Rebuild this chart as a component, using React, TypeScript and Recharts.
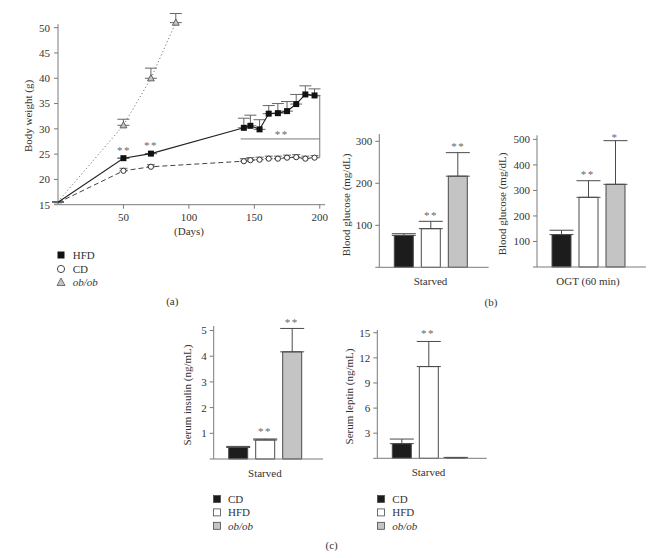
import { ComposedChart, Line, BarChart, Bar, XAxis, YAxis, ErrorBar, ReferenceLine } from 'recharts'

// (a) body weight over time
const days = [0, 50, 71, 142, 147, 154, 161, 168, 175, 182, 189, 196]
const hfdWeight = [15.5, 24.2, 25.1, 30.2, 30.6, 29.9, 33.0, 33.1, 33.5, 34.9, 36.8, 36.6]
const hfdWeightErr = [0, 0, 0, 1.9, 2.1, 1.9, 1.6, 1.9, 1.9, 1.9, 1.7, 1.3]
const cdWeight = [15.4, 21.7, 22.5, 23.6, 23.8, 23.9, 24.1, 24.1, 24.3, 24.4, 24.1, 24.3]
const cdWeightErr = [0, 0.5, 0.4, 0.5, 0.5, 0.5, 0.5, 0.5, 0.5, 0.5, 0.5, 0.4]
const obDays = [0, 50, 71, 90]
const obWeight = [15.6, 30.7, 40.0, 51.0]
const obWeightErr = [0, 1.2, 2.0, 1.8]
const dayTicks = [50, 100, 150, 200]
const weightTicks = [15, 20, 25, 30, 35, 40, 45, 50]

// (b) and (c) bar panels, groups in order CD, HFD, ob/ob
const groups = ['CD', 'HFD', 'ob/ob']
const glucoseStarved = [76, 92, 217]
const glucoseStarvedErr = [4, 17.5, 56]
const glucoseOgt = [127, 273, 324]
const glucoseOgtErr = [17, 65, 171]
const insulinStarved = [0.45, 0.74, 4.17]
const insulinStarvedErr = [0.04, 0.04, 0.91]
const leptinStarved = [1.75, 10.96, 0.1]
const leptinStarvedErr = [0.55, 3.0, 0]

const FONT = '"Liberation Serif", "DejaVu Serif", serif'
const AXIS = '#7a7a7a'
const EDGE = '#4a4a4a'
const INK = '#333'
const FILLS = ['#1c1c1c', '#ffffff', '#c4c4c4']
const tickStyle = { fontSize: 11, fill: INK, fontFamily: FONT }

const weightRows = days.map((d, i) => ({
  day: d,
  hfd: hfdWeight[i], hfdErr: [0, hfdWeightErr[i]],
  cd: cdWeight[i], cdErr: [0, cdWeightErr[i]],
}))
const obRows = obDays.map((d, i) => ({ day: d, ob: obWeight[i], obErr: [0, obWeightErr[i]] }))

const squareDot = (p: any) => p.index === 0
  ? <g key={`s${p.index}`} />
  : <rect key={`s${p.index}`} x={p.cx - 3} y={p.cy - 3} width={6} height={6} fill="#111" />
const circleDot = (p: any) => p.index === 0
  ? <g key={`c${p.index}`} />
  : <circle key={`c${p.index}`} cx={p.cx} cy={p.cy} r={2.6} fill="#fff" stroke="#333" strokeWidth={1} />
const triDot = (p: any) => p.index === 0
  ? <g key={`t${p.index}`} />
  : <path key={`t${p.index}`} d={`M${p.cx},${p.cy - 3.6} L${p.cx + 3.4},${p.cy + 2.6} L${p.cx - 3.4},${p.cy + 2.6} Z`} fill="#c4c4c4" stroke="#555" strokeWidth={0.9} />

function WeightPanel() {
  return (
    <div style={{ position: 'absolute', left: 0, top: 0 }}>
      <ComposedChart width={340} height={240} data={weightRows} margin={{ top: 2.4, right: 15, bottom: 5.3, left: 0 }}>
        <XAxis dataKey="day" type="number" domain={[0, 204]} ticks={dayTicks} height={30}
          axisLine={{ stroke: AXIS }} tickLine={{ stroke: AXIS }} tickSize={4} tickMargin={4} tick={tickStyle} />
        <YAxis type="number" domain={[15, 55]} ticks={weightTicks} width={58} axisLine={false}
          tickLine={{ stroke: AXIS }} tickSize={4} tickMargin={4} tick={tickStyle} />
        <ReferenceLine segment={[{ x: 0, y: 15 }, { x: 0, y: 50.7 }]} stroke={AXIS} ifOverflow="visible" />
        {/* significance bracket HFD vs CD */}
        <ReferenceLine segment={[{ x: 139.6, y: 28 }, { x: 200, y: 28 }]} stroke={AXIS} ifOverflow="visible" />
        <ReferenceLine segment={[{ x: 200, y: 24.3 }, { x: 200, y: 36.5 }]} stroke={AXIS} ifOverflow="visible" />
        <ReferenceLine segment={[{ x: 197.5, y: 36.5 }, { x: 200, y: 36.5 }]} stroke={AXIS} ifOverflow="visible" />
        <ReferenceLine segment={[{ x: 197.5, y: 24.3 }, { x: 200, y: 24.3 }]} stroke={AXIS} ifOverflow="visible" />
        <Line data={obRows} dataKey="ob" stroke="#777" strokeWidth={1} strokeDasharray="1.2 2.4"
          dot={triDot} isAnimationActive={false}>
          <ErrorBar dataKey="obErr" direction="y" width={6} stroke="#666" strokeWidth={1} />
        </Line>
        <Line dataKey="cd" stroke="#444" strokeWidth={1} strokeDasharray="5 3" dot={circleDot} isAnimationActive={false}>
          <ErrorBar dataKey="cdErr" direction="y" width={4} stroke="#666" strokeWidth={1} />
        </Line>
        <Line dataKey="hfd" stroke="#222" strokeWidth={1.1} dot={squareDot} isAnimationActive={false}>
          <ErrorBar dataKey="hfdErr" direction="y" width={6} stroke="#666" strokeWidth={1} />
        </Line>
      </ComposedChart>
    </div>
  )
}

type BarProps = {
  left: number; top: number; width: number; height: number; axisW: number
  margin: { top: number; right: number; bottom: number; left: number }
  yMax: number; ticks: number[]; category: string; values: number[]; errs: number[]
}

function BarPanel({ left, top, width, height, axisW, margin, yMax, ticks, category, values, errs }: BarProps) {
  const row: Record<string, unknown> = { name: category }
  groups.forEach((_, i) => { row['v' + i] = values[i]; row['e' + i] = [0, errs[i]] })
  return (
    <div style={{ position: 'absolute', left, top }}>
      <BarChart width={width} height={height} data={[row]} margin={margin} barSize={19} barGap={8}>
        <XAxis dataKey="name" height={20} axisLine={{ stroke: AXIS }} tickLine={false} tickSize={0} tickMargin={10}
          tick={tickStyle} padding={{ left: 0, right: 7 }} />
        <YAxis type="number" domain={[0, yMax]} ticks={ticks} width={axisW} tickFormatter={(v: number) => (v === 0 ? '' : String(v))}
          axisLine={{ stroke: AXIS }} tickLine={{ stroke: AXIS }} tickSize={4} tickMargin={3} tick={tickStyle} />
        {groups.map((g, i) => (
          <Bar key={g} dataKey={'v' + i} name={g} fill={FILLS[i]} stroke={EDGE} strokeWidth={1} isAnimationActive={false}>
            <ErrorBar dataKey={'e' + i} direction="y" width={12} stroke={EDGE} strokeWidth={1} />
          </Bar>
        ))}
      </BarChart>
    </div>
  )
}

const txt = { fontFamily: FONT, fontSize: 11, fill: INK }
const star = { fontFamily: FONT, fontSize: 11, fill: '#666', letterSpacing: 1.5 }

function Overlay() {
  const vlabel = (x: number, y: number, s: string) => (
    <text x={x} y={y} transform={`rotate(-90 ${x} ${y})`} textAnchor="middle" dominantBaseline="central" style={txt}>{s}</text>
  )
  const stars = (x: number, y: number, s: string) => (
    <text x={x} y={y} textAnchor="middle" dominantBaseline="central" style={star}>{s}</text>
  )
  const barLegend = (x: number, tx: number) => groups.map((g, i) => (
    <g key={g + x}>
      <rect x={x - 3.5} y={499 + i * 13.4 - 3.5} width={7} height={7} fill={FILLS[i]} stroke={EDGE} strokeWidth={0.8} />
      <text x={tx} y={499 + i * 13.4} dominantBaseline="central" style={{ ...txt, fontStyle: i === 2 ? 'italic' : 'normal' }}>{g}</text>
    </g>
  ))
  return (
    <svg width={664} height={558} style={{ position: 'absolute', left: 0, top: 0, pointerEvents: 'none' }}>
      {vlabel(28, 116, 'Body weight (g)')}
      {vlabel(345.7, 205, 'Blood glucose (mg/dL)')}
      {vlabel(502.3, 204, 'Blood glucose (mg/dL)')}
      {vlabel(186.7, 395, 'Serum insulin (ng/mL)')}
      {vlabel(349.3, 396.5, 'Serum leptin (ng/mL)')}
      <text x={189} y={231} textAnchor="middle" dominantBaseline="central" style={txt}>(Days)</text>
      <text x={172.3} y={301.3} textAnchor="middle" dominantBaseline="central" style={txt}>(a)</text>
      <text x={491} y={302} textAnchor="middle" dominantBaseline="central" style={txt}>(b)</text>
      <text x={331.7} y={545} textAnchor="middle" dominantBaseline="central" style={txt}>(c)</text>

      {/* legend (a) */}
      <rect x={57.5} y={251.5} width={7} height={7} fill="#111" />
      <text x={72.7} y={255} dominantBaseline="central" style={txt}>HFD</text>
      <circle cx={61} cy={269} r={3.6} fill="#fff" stroke="#333" strokeWidth={0.9} />
      <text x={72.7} y={269} dominantBaseline="central" style={txt}>CD</text>
      <path d="M61,278 L65,285.5 L57,285.5 Z" fill="#c4c4c4" stroke="#555" strokeWidth={0.8} />
      <text x={72.7} y={282} dominantBaseline="central" style={{ ...txt, fontStyle: 'italic' }}>ob/ob</text>

      {barLegend(217, 228)}
      {barLegend(381, 392.3)}

      {stars(124, 150, '**')}
      {stars(151, 144.5, '**')}
      {stars(281.7, 134, '**')}
      {stars(431, 214.5, '**')}
      {stars(458.3, 145.5, '**')}
      {stars(587.7, 173.8, '**')}
      {stars(615, 137, '*')}
      {stars(265, 431, '**')}
      {stars(291.7, 321.5, '**')}
      {stars(428, 333, '**')}
    </svg>
  )
}

export default function App() {
  return (
    <div style={{ position: 'absolute', left: 0, top: 0, width: 664, height: 558, background: '#fff', fontFamily: FONT }}>
      <WeightPanel />
      <BarPanel left={330} top={120} width={170} height={170} axisW={49.3}
        margin={{ top: 14, right: 11.3, bottom: 2.7, left: 0 }} yMax={317.4} ticks={[0, 100, 200, 300]}
        category="Starved" values={glucoseStarved} errs={glucoseStarvedErr} />
      <BarPanel left={500} top={120} width={160} height={170} axisW={37}
        margin={{ top: 15.3, right: 14, bottom: 3, left: 0 }} yMax={516} ticks={[0, 100, 200, 300, 400, 500]}
        category="OGT (60 min)" values={glucoseOgt} errs={glucoseOgtErr} />
      <BarPanel left={160} top={315} width={170} height={170} axisW={53.7}
        margin={{ top: 11, right: 7, bottom: 6, left: 0 }} yMax={5.175} ticks={[0, 1, 2, 3, 4, 5]}
        category="Starved" values={insulinStarved} errs={insulinStarvedErr} />
      <BarPanel left={330} top={315} width={170} height={170} axisW={47.3}
        margin={{ top: 15, right: 13.3, bottom: 6.7, left: 0 }} yMax={15.33} ticks={[0, 3, 6, 9, 12, 15]}
        category="Starved" values={leptinStarved} errs={leptinStarvedErr} />
      <Overlay />
    </div>
  )
}
